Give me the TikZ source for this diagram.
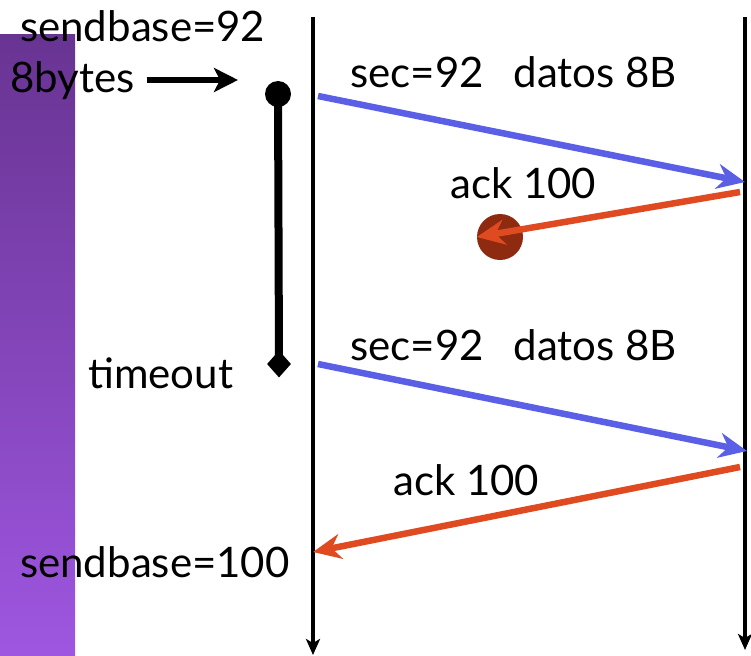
\documentclass[tikz,border=0pt]{standalone}
\usepackage{fontspec}
\setmainfont{Lato}
\usetikzlibrary{arrows.meta,shapes.geometric}
\definecolor{segblue}{RGB}{90,95,230}
\definecolor{ackred}{RGB}{224,74,32}
\definecolor{lossred}{RGB}{142,42,16}
\definecolor{bartop}{RGB}{104,52,146}
\definecolor{barbottom}{RGB}{158,86,224}
\tikzset{
  lbl/.style={inner sep=0pt, anchor=base west, font=\fontsize{42}{46}\selectfont},
  timeline/.style={line width=4pt, -{Stealth[length=16pt,width=14pt,inset=4pt]}},
  segment/.style={draw=segblue, line width=6.5pt, -{Stealth[length=28pt,width=25pt,inset=9pt]}},
  ackmsg/.style={draw=ackred, line width=6.5pt, -{Stealth[length=28pt,width=25pt,inset=9pt]}},
}
\begin{document}
\begin{tikzpicture}[x=1pt,y=-1pt]
\useasboundingbox (0,0) rectangle (751,655);
% side band
\shade[top color=bartop, bottom color=barbottom] (0,35) rectangle (75,655);

% sender and receiver time lines
\coordinate (stop) at (313,17);
\coordinate (sbot) at (313,655);
\coordinate (rtop) at (745,17);
\coordinate (rbot) at (745,650);
\draw[timeline] (stop) -- (sbot);
\draw[timeline] (rtop) -- (rbot);

% labels
\node[lbl] (sb92) at (20,42) {sendbase=92};
\node[lbl] (bytes) at (10,93) {8bytes};
\node[lbl] (seg1) at (350,88) {sec=92\hspace{30pt}datos 8B};
\node[lbl] (ack1) at (450,198) {ack 100};
\node[lbl] (tout) at (88,388) {timeout};
\node[lbl] (seg2) at (350,360) {sec=92\hspace{30pt}datos 8B};
\node[lbl] (ack2) at (393,495) {ack 100};
\node[lbl] (sb100) at (20,577) {sendbase=100};

% pointer from the byte count to the timer start
\coordinate (ptr) at (238,80);
\draw[line width=6pt, -{Stealth[length=24pt,width=24pt,inset=6pt]}] (bytes.east |- ptr) ++(12,0) -- (ptr);

% timer
\node[circle, fill=black, minimum size=26pt, inner sep=0pt] (tstart) at (278,94) {};
\node[diamond, fill=black, minimum width=24pt, minimum height=27pt, inner sep=0pt] (tend) at (279,364) {};
\draw[line width=8pt] (tstart.center) -- (tend.center);

% lost ack marker
\node[circle, fill=lossred, minimum size=46pt, inner sep=0pt] (lost) at (500,237) {};

% messages
\coordinate (s1) at (318,96);
\coordinate (r1) at (745,182);
\coordinate (r1b) at (740,192);
\coordinate (s2) at (318,364);
\coordinate (r2) at (747,451);
\coordinate (r2b) at (740,467);
\coordinate (s3) at (313,552);
\draw[segment] (s1) -- (r1);
\draw[ackmsg] (r1b) -- (lost.west);
\draw[segment] (s2) -- (r2);
\draw[ackmsg] (r2b) -- (s3);
\end{tikzpicture}
\end{document}
